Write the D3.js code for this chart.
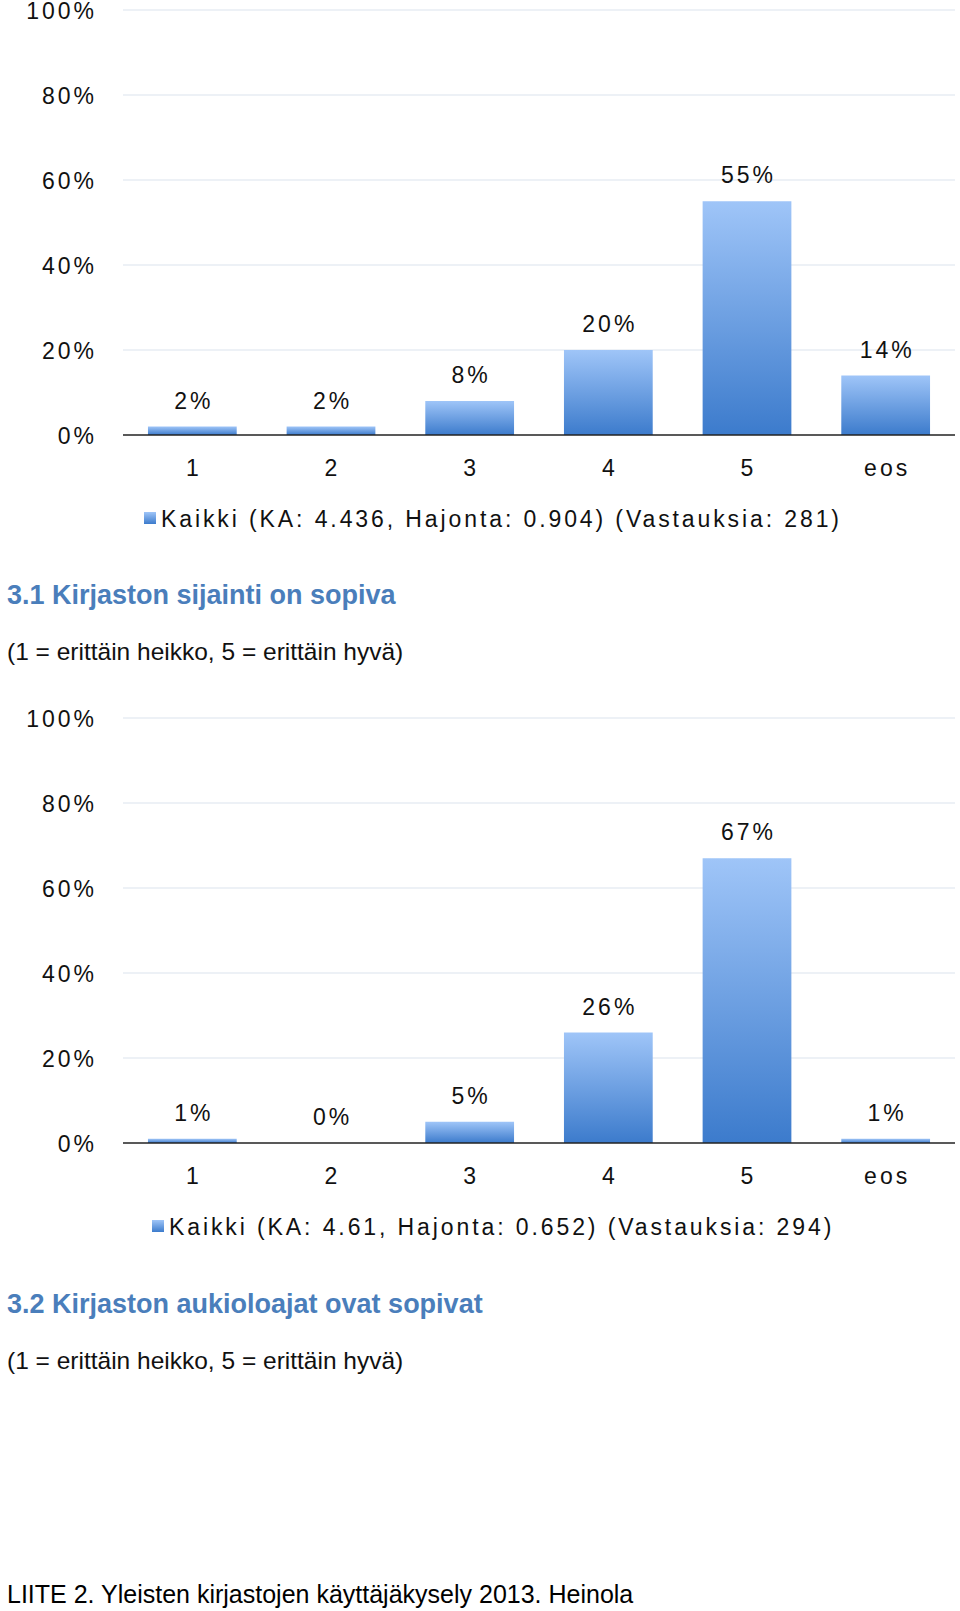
<!DOCTYPE html><html><head><meta charset="utf-8">
<script src="https://cdn.jsdelivr.net/npm/d3@7"></script>
<style>body{margin:0;background:#fff}svg{font-family:"Liberation Sans",Arial,sans-serif}</style></head><body>
<script>
const categories=["1","2","3","4","5","eos"];
const values1=[2,2,8,20,55,14];
const values2=[1,0,5,26,67,1];
const yTicks=[0,20,40,60,80,100];
const legend1="Kaikki (KA: 4.436, Hajonta: 0.904) (Vastauksia: 281)";
const legend2="Kaikki (KA: 4.61, Hajonta: 0.652) (Vastauksia: 294)";
const title2="3.1 Kirjaston sijainti on sopiva";
const title3="3.2 Kirjaston aukioloajat ovat sopivat";
const subtitle="(1 = erittäin heikko, 5 = erittäin hyvä)";
const footer="LIITE 2. Yleisten kirjastojen käyttäjäkysely 2013. Heinola";

const svg=d3.select("body").append("svg").attr("width",960).attr("height",1611);
const g=svg.append("defs").append("linearGradient").attr("id","bg").attr("x1",0).attr("x2",0).attr("y1",0).attr("y2",1);
g.append("stop").attr("offset","0%").attr("stop-color","#9fc5f8");
g.append("stop").attr("offset","100%").attr("stop-color","#3c7bcc");

function chart(vals,top,bottom,legendText,legendY,legendX){
  const x=d3.scaleBand().domain(categories).range([123,955]).paddingInner(0.36).paddingOuter(0.18);
  const y=d3.scaleLinear().domain([0,100]).range([bottom,top]);
  const c=svg.append("g");
  c.selectAll(".grid").data(yTicks.slice(1)).join("line").attr("x1",123).attr("x2",955)
    .attr("y1",d=>y(d)).attr("y2",d=>y(d)).attr("stroke","#dbe4ee").attr("stroke-width",1.2);
  c.selectAll(".yl").data(yTicks).join("text").attr("x",97).attr("y",d=>y(d)+9).attr("text-anchor","end")
    .attr("font-size",23).attr("letter-spacing",3).attr("fill","#111").text(d=>d+"%");
  c.selectAll("rect").data(vals).join("rect").attr("x",(d,i)=>x(categories[i])).attr("width",x.bandwidth())
    .attr("y",d=>y(d)).attr("height",d=>bottom-y(d)).attr("fill","url(#bg)");
  c.append("line").attr("x1",123).attr("x2",955).attr("y1",bottom).attr("y2",bottom).attr("stroke","#222").attr("stroke-width",1.5);
  c.selectAll(".vl").data(vals).join("text").attr("x",(d,i)=>x(categories[i])+x.bandwidth()/2+1.5).attr("y",d=>y(d)-18)
    .attr("text-anchor","middle").attr("font-size",23).attr("letter-spacing",3).attr("fill","#111").text(d=>d+"%");
  c.selectAll(".xl").data(categories).join("text").attr("x",d=>x(d)+x.bandwidth()/2+1.5).attr("y",bottom+41)
    .attr("text-anchor","middle").attr("font-size",23).attr("letter-spacing",3).attr("fill","#111").text(d=>d);
  c.append("rect").attr("x",legendX).attr("y",legendY-15).attr("width",12).attr("height",12).attr("fill","url(#bg)");
  c.append("text").attr("x",legendX+17).attr("y",legendY).attr("font-size",23).attr("letter-spacing",2.9).attr("fill","#111").text(legendText);
}
chart(values1,10,435,legend1,527,144);
chart(values2,718,1143,legend2,1235,152);
function t(txt,yy,size,col,bold){svg.append("text").attr("x",7).attr("y",yy).attr("font-size",size).attr("fill",col).attr("font-weight",bold?"bold":"normal").text(txt);}
t(title2,604,27,"#4a7ebb",true);
t(subtitle,660,24.5,"#111",false);
t(title3,1313,27,"#4a7ebb",true);
t(subtitle,1369,24.5,"#111",false);
t(footer,1603,25,"#000",false);
</script></body></html>
